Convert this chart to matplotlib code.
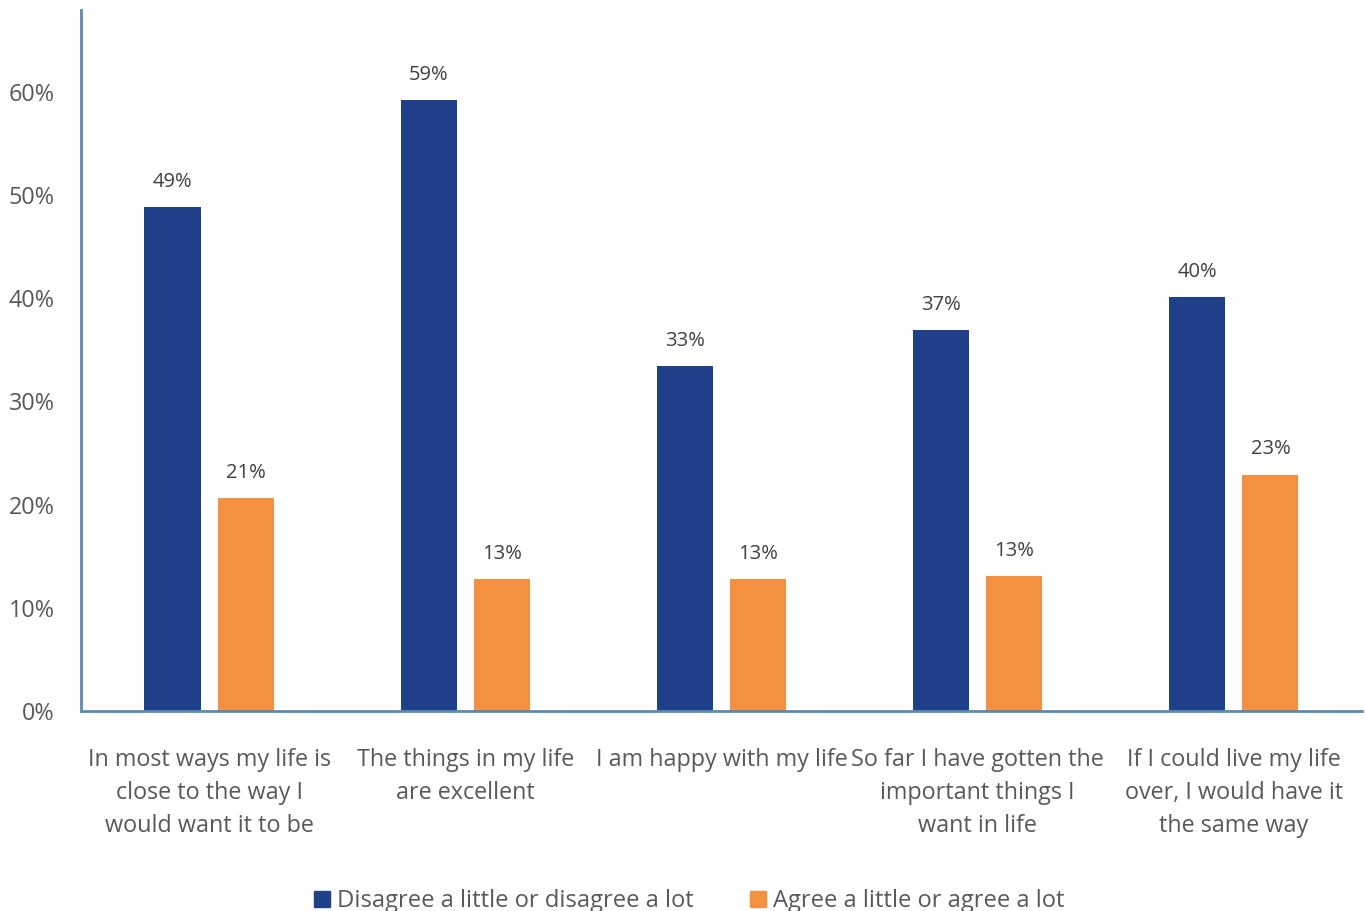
import matplotlib
matplotlib.use('Agg')
import matplotlib.pyplot as plt
from matplotlib.patches import Patch
import numpy as np

categories = [
    "In most ways my life is\nclose to the way I\nwould want it to be",
    "The things in my life\nare excellent",
    "I am happy with my life",
    "So far I have gotten the\nimportant things I\nwant in life",
    "If I could live my life\nover, I would have it\nthe same way",
]
disagree = [48.8, 59.2, 33.4, 36.9, 40.1]
agree = [20.6, 12.8, 12.8, 13.1, 22.9]
disagree_labels = ["49%", "59%", "33%", "37%", "40%"]
agree_labels = ["21%", "13%", "13%", "13%", "23%"]
series_names = ["Disagree a little or disagree a lot", "Agree a little or agree a lot"]

BLUE = "#21408A"
ORANGE = "#F39140"
AXIS = "#5A8AB5"
TEXT = "#595959"

plt.rcParams['font.family'] = ['Open Sans', 'DejaVu Sans']

fig = plt.figure(figsize=(13.65, 9.11), dpi=100)
ax = fig.add_axes([0.0593, 0.2195, 0.9385, 0.7695])

x = np.arange(len(categories))
w = 0.219
off = 0.1426
b1 = ax.bar(x - off, disagree, w, color=BLUE)
b2 = ax.bar(x + off, agree, w, color=ORANGE)

for bars, labels in ((b1, disagree_labels), (b2, agree_labels)):
    for bar, lab in zip(bars, labels):
        ax.annotate(lab, (bar.get_x() + bar.get_width() / 2, bar.get_height()),
                    xytext=(0, 11), textcoords='offset points',
                    ha='center', va='bottom', fontsize=14.5, color='#404040')

ax.set_xlim(-0.5, 4.5)
ax.set_ylim(0, 67.9)
ax.set_yticks(range(0, 61, 10))
ax.set_yticklabels([f"{v}%" for v in range(0, 61, 10)])
ax.set_xticks(x)
ax.set_xticklabels(categories, linespacing=1.5)
ax.tick_params(axis='both', length=0, labelsize=16.8, colors=TEXT)
ax.tick_params(axis='x', pad=26.5)
ax.tick_params(axis='y', pad=19)

for s in ('top', 'right'):
    ax.spines[s].set_visible(False)
for s in ('left', 'bottom'):
    ax.spines[s].set_color(AXIS)
    ax.spines[s].set_linewidth(2)

handles = [Patch(color=BLUE), Patch(color=ORANGE)]
fig.legend(handles, series_names, loc='center', bbox_to_anchor=(0.505, 0.011),
           ncol=2, frameon=False, fontsize=17.1, labelcolor=TEXT,
           handlelength=0.65, handleheight=0.65, handletextpad=0.3, columnspacing=2.4)

fig.savefig("out.png", dpi=100)
